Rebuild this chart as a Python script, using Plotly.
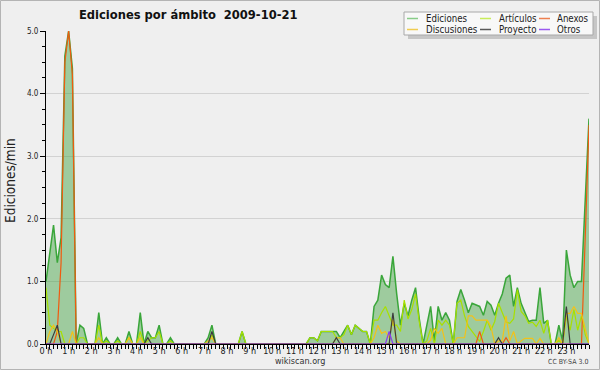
import plotly.graph_objects as go

# ---------------- data (10-minute slots, 0:00 .. 24:00) ----------------
SLOT_MINUTES = 10
hour_labels = [f"{h} h" for h in range(24)]

ediciones = [
    1.0, 1.5, 1.9, 1.3, 1.7, 4.6, 5.0, 4.4, 0, 0.3, 0.25, 0,
    0, 0, 0.5, 0, 0.1, 0, 0, 0.1, 0, 0, 0.2, 0,
    0, 0.5, 0, 0.2, 0.1, 0.1, 0.3, 0, 0, 0.1, 0, 0,
    0, 0, 0, 0, 0, 0, 0, 0.1, 0.3, 0, 0, 0,
    0, 0, 0, 0, 0.2, 0, 0, 0, 0, 0, 0, 0,
    0, 0, 0, 0, 0, 0, 0, 0, 0, 0, 0.1, 0.1,
    0.05, 0.2, 0.2, 0.2, 0.2, 0.2, 0.1, 0.2, 0.3, 0.15, 0.3, 0.25,
    0.2, 0.2, 0, 0.6, 0.7, 1.1, 0.95, 0.9, 1.4, 0.8, 0.3, 0.65,
    0.45, 0.7, 0.9, 0.4, 0, 0.3, 0.6, 0.05, 0.6, 0.38, 0.5, 0.38,
    0, 0.68, 0.87, 0.7, 0.5, 0.65, 0.62, 0.6, 0.46, 0.68, 0.62, 0.46,
    0.65, 0.8, 1.05, 1.1, 0.6, 0.9, 0.65, 0.5, 0.36, 0.38, 0.38, 0.9,
    0.33, 0.38, 0, 0, 0.3, 0.05, 1.5, 1.1, 0.9, 1.0, 1.0, 2.3,
    3.6,
]

articulos = [
    0.9, 0.3, 0.25, 0.2, 0.2, 0, 0, 0, 0, 0.1, 0.1, 0,
    0, 0, 0.3, 0, 0.05, 0, 0, 0.05, 0, 0, 0.1, 0,
    0, 0.2, 0, 0.05, 0.1, 0.1, 0.2, 0, 0, 0.05, 0, 0,
    0, 0, 0, 0, 0, 0, 0, 0, 0.15, 0, 0, 0,
    0, 0, 0, 0, 0.2, 0, 0, 0, 0, 0, 0, 0,
    0, 0, 0, 0, 0, 0, 0, 0, 0, 0, 0.1, 0.1,
    0.05, 0.2, 0.2, 0.2, 0.2, 0.1, 0.1, 0.15, 0.3, 0.15, 0.3, 0.25,
    0.2, 0.2, 0, 0.38, 0.38, 0.5, 0.6, 0.45, 0.3, 0.3, 0.2, 0.7,
    0.4, 0.55, 0.8, 0.35, 0, 0.05, 0.25, 0, 0.38, 0.3, 0.38, 0.3,
    0, 0.65, 0.7, 0.45, 0.28, 0.2, 0.12, 0.04, 0.2, 0.38, 0.22, 0.36,
    0.65, 0.5, 0.35, 0.33, 0.4, 0.87, 0.52, 0.45, 0.33, 0.35, 0.28, 0.38,
    0.17, 0.38, 0, 0, 0.06, 0, 0.45, 0.22, 0.55, 0.22, 0.45, 0.15,
    0,
]

anexos = [
    0, 0, 0, 0.2, 1.3, 4.5, 5.0, 4.3, 0, 0, 0, 0,
    0, 0, 0, 0, 0, 0, 0, 0, 0, 0, 0, 0,
    0, 0, 0, 0, 0, 0, 0, 0, 0, 0, 0, 0,
    0, 0, 0, 0, 0, 0, 0, 0, 0, 0, 0, 0,
    0, 0, 0, 0, 0, 0, 0, 0, 0, 0, 0, 0,
    0, 0, 0, 0, 0, 0, 0, 0, 0, 0, 0, 0,
    0, 0, 0, 0, 0, 0, 0, 0, 0, 0, 0, 0,
    0, 0, 0, 0, 0, 0, 0, 0, 0, 0, 0, 0,
    0, 0, 0, 0, 0, 0, 0, 0, 0, 0, 0, 0,
    0, 0, 0, 0, 0, 0, 0, 0.2, 0, 0, 0, 0,
    0, 0, 0.1, 0, 0, 0, 0, 0, 0, 0, 0, 0,
    0, 0, 0, 0, 0, 0, 0, 0, 0, 0, 0, 1.7,
    3.5,
]

discusiones = [
    0, 0.2, 0.3, 0.2, 0, 0, 0, 0.2, 0, 0, 0, 0,
    0, 0, 0.1, 0, 0, 0, 0, 0, 0, 0, 0.1, 0,
    0, 0.1, 0, 0, 0, 0, 0, 0, 0, 0, 0, 0,
    0, 0, 0, 0, 0, 0, 0, 0.05, 0.1, 0, 0, 0,
    0, 0, 0, 0, 0, 0, 0, 0, 0, 0, 0, 0,
    0, 0, 0, 0, 0, 0, 0, 0, 0, 0, 0, 0,
    0, 0, 0, 0, 0, 0.1, 0.1, 0, 0, 0, 0, 0,
    0, 0, 0, 0.1, 0.3, 0.17, 0.2, 0.1, 0.4, 0.05, 0, 0,
    0, 0, 0, 0, 0, 0, 0.06, 0.25, 0.17, 0.25, 0, 0,
    0, 0.1, 0.1, 0.1, 0.45, 0.45, 0.38, 0.38, 0.38, 0.38, 0.28, 0,
    0.05, 0.05, 0.45, 0.05, 0.2, 0, 0.05, 0.09, 0.09, 0.09, 0, 0.09,
    0, 0, 0, 0, 0.1, 0, 0.49, 0.49, 0.6, 0.49, 0.49, 0.22,
    0,
]

proyecto = [
    0, 0, 0.15, 0.3, 0, 0, 0, 0, 0, 0, 0, 0,
    0, 0, 0, 0, 0, 0, 0, 0, 0, 0, 0, 0,
    0, 0, 0, 0.1, 0, 0, 0, 0, 0, 0, 0, 0,
    0, 0, 0, 0, 0, 0, 0, 0, 0.2, 0, 0, 0,
    0, 0, 0, 0, 0, 0, 0, 0, 0, 0, 0, 0,
    0, 0, 0, 0, 0, 0, 0, 0, 0, 0, 0, 0,
    0, 0, 0, 0, 0, 0.1, 0, 0, 0, 0, 0, 0,
    0, 0, 0, 0, 0, 0, 0, 0, 0.5, 0, 0, 0,
    0, 0, 0, 0, 0, 0, 0, 0, 0, 0, 0, 0,
    0, 0, 0, 0, 0, 0, 0, 0, 0, 0, 0, 0,
    0.1, 0, 0, 0, 0, 0, 0, 0, 0, 0, 0, 0,
    0, 0, 0, 0, 0, 0, 0.6, 0, 0, 0, 0, 0,
    0,
]

otros = [
    0, 0, 0, 0, 0, 0, 0, 0, 0, 0, 0, 0,
    0, 0, 0, 0, 0, 0, 0, 0, 0, 0, 0, 0,
    0, 0, 0, 0, 0, 0, 0, 0, 0, 0, 0, 0,
    0, 0, 0, 0, 0, 0, 0, 0, 0, 0, 0, 0,
    0, 0, 0, 0, 0, 0, 0, 0, 0, 0, 0, 0,
    0, 0, 0, 0, 0, 0, 0, 0, 0, 0, 0, 0,
    0, 0, 0, 0, 0, 0, 0, 0, 0, 0, 0, 0,
    0, 0, 0, 0, 0, 0, 0, 0.2, 0, 0, 0, 0,
    0, 0, 0, 0, 0, 0, 0, 0, 0, 0, 0, 0,
    0, 0, 0, 0, 0, 0, 0, 0, 0, 0, 0, 0,
    0, 0, 0, 0, 0, 0, 0, 0, 0, 0, 0, 0,
    0, 0, 0, 0, 0, 0, 0, 0, 0, 0, 0, 0,
    0,
]

series_names = ["Ediciones", "Artículos", "Anexos", "Discusiones", "Proyecto", "Otros"]
series_values = [ediciones, articulos, anexos, discusiones, proyecto, otros]

# ---------------- styling ----------------
line_colors = ["#3aa63a", "#a8e000", "#f05a10", "#f2c21a", "#3c3c3c", "#8a3cf0"]
legend_colors = ["#88cc88", "#c8ec5a", "#ee8050", "#f0cc50", "#5a5a5a", "#9a5af0"]
line_widths = [1.5, 1.2, 1.2, 1.2, 1.2, 1.2]
FONT = "DejaVu Sans Condensed, DejaVu Sans, sans-serif"
BG = "#efefef"

hours = [i * SLOT_MINUTES / 60 for i in range(len(ediciones))]

fig = go.Figure()
for k, (name, vals) in enumerate(zip(series_names, series_values)):
    fig.add_trace(go.Scatter(
        x=hours, y=vals, name=name, mode="lines",
        line=dict(color=line_colors[k], width=line_widths[k]),
        fill="tozeroy" if k == 0 else None,
        fillcolor="rgba(60,160,60,0.45)" if k == 0 else None,
        hoverinfo="skip",
    ))

L, R, T, B, W, H = 46, 589, 31, 344, 600, 370


def xp(px):
    return (px - L) / (R - L)


def yp(py):
    return (B - py) / (B - T)


fig.update_layout(
    width=W, height=H,
    margin=dict(l=L, r=W - R, t=T, b=H - B, pad=0, autoexpand=False),
    paper_bgcolor=BG, plot_bgcolor=BG,
    showlegend=False,
    font=dict(family=FONT, color="#222222"),
    xaxis=dict(
        range=[0, 24], tickmode="array", tickvals=list(range(24)), ticktext=hour_labels,
        ticks="outside", ticklen=4, tickwidth=1, tickcolor="black",
        showline=True, linecolor="black", linewidth=1,
        showgrid=False, zeroline=False, automargin=False,
        ticklabelstandoff=-6,
        tickfont=dict(size=9, family=FONT, color="#222"),
        minor=dict(dtick=SLOT_MINUTES / 60, ticks="outside", ticklen=4, tickcolor="black", showgrid=False),
    ),
    yaxis=dict(
        range=[0, 5], dtick=1, tickformat=".1f",
        ticks="outside", ticklen=5, tickwidth=1, tickcolor="black",
        showline=True, linecolor="black", linewidth=1,
        showgrid=True, gridcolor="#d2d2d2", gridwidth=1, zeroline=False, automargin=False,
        tickfont=dict(size=8, family=FONT, color="#222"),
        minor=dict(dtick=0.25, ticks="outside", ticklen=3, tickcolor="black", showgrid=False),
    ),
)

shapes = []
annotations = []

# outer frame
shapes.append(dict(type="rect", xref="paper", yref="paper",
                   x0=xp(0.5), x1=xp(599.5), y0=yp(0.5), y1=yp(369.5),
                   line=dict(color="#b4b4b4", width=1), fillcolor="rgba(0,0,0,0)", layer="below"))

# legend box with shadow
shapes.append(dict(type="rect", xref="paper", yref="paper",
                   x0=xp(408), x1=xp(597), y0=yp(16), y1=yp(39),
                   line=dict(width=0), fillcolor="#c6c6c6"))
shapes.append(dict(type="rect", xref="paper", yref="paper",
                   x0=xp(404), x1=xp(593), y0=yp(12), y1=yp(35),
                   line=dict(color="#a8a8a8", width=1), fillcolor="#f8f8f8"))

col_line_x = [407, 480, 539]
col_text_x = [424, 497, 555]
row_y = [18.5, 29.5]
for k, name in enumerate(series_names):
    r, c = divmod(k, 3)
    yy = yp(row_y[r])
    shapes.append(dict(type="line", xref="paper", yref="paper",
                       x0=xp(col_line_x[c]), x1=xp(col_line_x[c] + 11), y0=yy, y1=yy,
                       line=dict(color=legend_colors[k], width=1.5)))
    annotations.append(dict(xref="paper", yref="paper", x=xp(col_text_x[c]), y=yy,
                            text=name, showarrow=False, xanchor="left", yanchor="middle",
                            font=dict(size=9.6, family=FONT, color="#222")))

# title
annotations.append(dict(xref="paper", yref="paper", x=xp(187.5), y=yp(14),
                        text="<b>Ediciones por ámbito\u00a0 2009-10-21</b>", showarrow=False,
                        xanchor="center", yanchor="middle",
                        font=dict(size=12.8, family=FONT, color="#111")))
# y title
annotations.append(dict(xref="paper", yref="paper", x=xp(10), y=yp(181),
                        text="Ediciones/min", showarrow=False, textangle=-90,
                        xanchor="center", yanchor="middle",
                        font=dict(size=13.5, family=FONT, color="#222")))
# footer
annotations.append(dict(xref="paper", yref="paper", x=xp(300), y=yp(361.5),
                        text="wikiscan.org", showarrow=False, xanchor="center", yanchor="middle",
                        font=dict(size=9, family=FONT, color="#333")))
annotations.append(dict(xref="paper", yref="paper", x=xp(590), y=yp(362),
                        text="CC BY-SA 3.0", showarrow=False, xanchor="right", yanchor="middle",
                        font=dict(size=7, family=FONT, color="#444")))

fig.update_layout(shapes=shapes, annotations=annotations)
fig.write_html("out.html", config={"displayModeBar": False},
               post_script="document.body.style.margin='0';")
